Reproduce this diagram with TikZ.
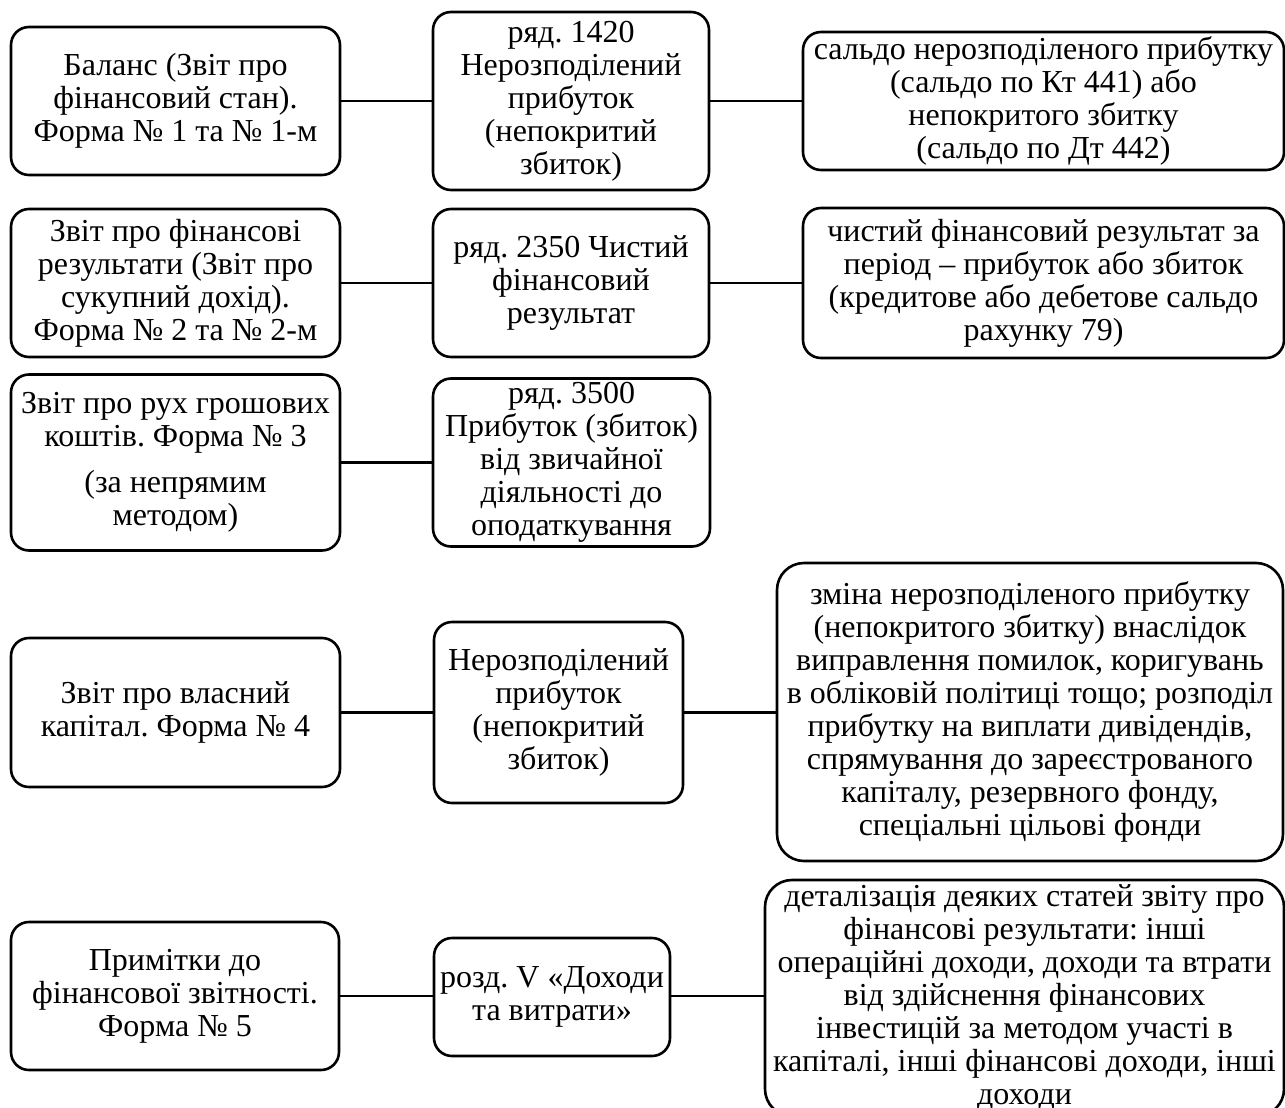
\documentclass[tikz,border=0pt]{standalone}
\usepackage{fontspec}
\setmainfont{Liberation Serif}
\frenchspacing
\begin{document}
\begin{tikzpicture}[x=1pt,y=-1pt,
  box/.style={draw, line width=2.6pt, rounded corners=18pt, align=center, inner sep=0pt,
              font=\fontsize{32}{33}\selectfont},
  bigbox/.style={box, rounded corners=27pt},
  link/.style={line width=2.6pt}]
\useasboundingbox (0,0) rectangle (1285,1108);
\clip (0,0) rectangle (1285,1108);
% row 1
\node[box, minimum width=329pt, minimum height=148pt] (L1) at (175.5,101)
  {Баланс (Звіт про\\фінансовий стан).\\Форма № 1 та № 1-м};
\node[box, minimum width=276pt, minimum height=178pt] (M1) at (571,101)
  {ряд. 1420\\Нерозподілений\\прибуток\\(непокритий\\збиток)};
\node[box, minimum width=481pt, minimum height=138pt] (R1) at (1043.5,101)
  {сальдо нерозподіленого прибутку\\(сальдо по Кт 441) або\\непокритого збитку\\(сальдо по Дт 442)};
% row 2
\node[box, minimum width=329pt, minimum height=148pt] (L2) at (175.5,283)
  {Звіт про фінансові\\результати (Звіт про\\сукупний дохід).\\Форма № 2 та № 2-м};
\node[box, minimum width=276pt, minimum height=148pt] (M2) at (571,283)
  {ряд. 2350 Чистий\\фінансовий\\результат};
\node[box, minimum width=481pt, minimum height=150pt] (R2) at (1043.5,283)
  {чистий фінансовий результат за\\період – прибуток або збиток\\(кредитове або дебетове сальдо\\рахунку 79)};
% row 3
\node[box, minimum width=329pt, minimum height=176pt] (L3) at (175.5,462.5)
  {Звіт про рух грошових\\коштів. Форма № 3\\[13pt](за непрямим\\методом)};
\node[box, minimum width=277pt, minimum height=168pt] (M3) at (571.5,462.5)
  {ряд. 3500\\Прибуток (збиток)\\від звичайної\\діяльності до\\оподаткування};
% row 4
\node[box, minimum width=329pt, minimum height=149pt] (L4) at (175.5,712.5)
  {Звіт про власний\\капітал. Форма № 4};
\node[box, minimum width=249pt, minimum height=181pt] (M4) at (558.5,712.5)
  {Нерозподілений\\прибуток\\(непокритий\\збиток)};
\node[bigbox, minimum width=506pt, minimum height=298pt] (R4) at (1030,712)
  {зміна нерозподіленого прибутку\\(непокритого збитку) внаслідок\\виправлення помилок, коригувань\\в обліковій політиці тощо; розподіл\\прибутку на виплати дивідендів,\\спрямування до зареєстрованого\\капіталу, резервного фонду,\\спеціальні цільові фонди};
% row 5
\node[box, minimum width=328pt, minimum height=148pt] (L5) at (175,996)
  {Примітки до\\фінансової звітності.\\Форма № 5};
\node[box, minimum width=236pt, minimum height=118pt] (M5) at (552,997)
  {розд. V «Доходи\\та витрати»};
\node[bigbox, minimum width=519pt, minimum height=236pt] (R5) at (1024.5,998)
  {деталізація деяких статей звіту про\\фінансові результати: інші\\операційні доходи, доходи та втрати\\від здійснення фінансових\\інвестицій за методом участі в\\капіталі, інші фінансові доходи, інші\\доходи};
% connectors
\draw[link] (L1.east) -- (L1.east -| M1.west);
\draw[link] (M1.east) -- (M1.east -| R1.west);
\draw[link] (L2.east) -- (L2.east -| M2.west);
\draw[link] (M2.east) -- (M2.east -| R2.west);
\draw[link] (L3.east) -- (L3.east -| M3.west);
\draw[link] (L4.east) -- (L4.east -| M4.west);
\draw[link] (M4.east) -- (M4.east -| R4.west);
\draw[link] (L5.east) -- (L5.east -| M5.west);
\draw[link] (L5.east -| M5.east) -- (L5.east -| R5.west);
\end{tikzpicture}
\end{document}
